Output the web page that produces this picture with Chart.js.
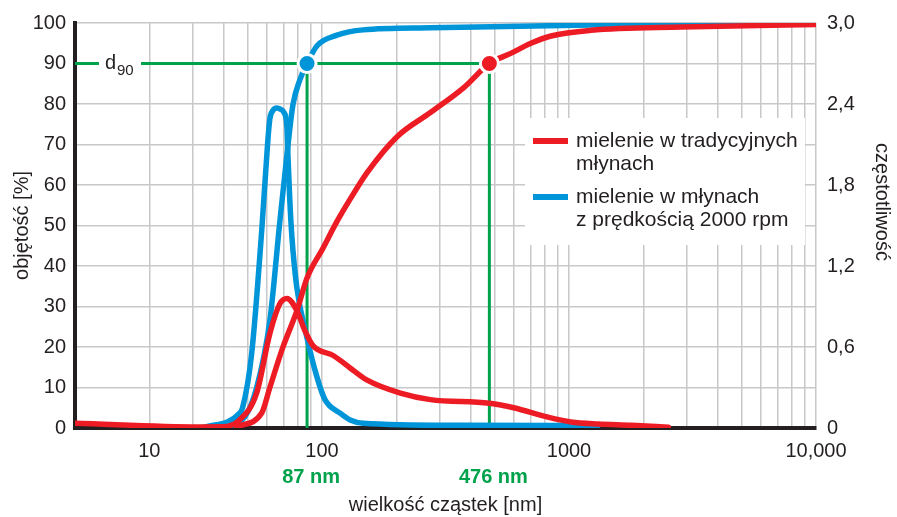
<!DOCTYPE html>
<html>
<head>
<meta charset="utf-8">
<script src="https://cdn.jsdelivr.net/npm/chart.js@4.4.1/dist/chart.umd.min.js"></script>
<style>
  html, body { margin: 0; padding: 0; background: #fff; }
</style>
</head>
<body>
<canvas id="psdChart" width="897" height="517"></canvas>
<script>
// particle size (nm) and values
const redCumX  = [45.1, 57, 61.5, 69.4, 79.1, 86.9, 100.9, 115, 130, 152, 201.8, 274.8, 374, 476, 581, 701, 845, 1228, 2853, 10000];
const redCumY  = [0.3, 3.7, 10, 19.9, 28.9, 37, 44.4, 51, 56.5, 63, 72, 77.9, 84, 90, 92.5, 95, 96.8, 98.2, 99, 99.6];

const blueCumX = [39.2, 48.6, 54.4, 61.5, 67.5, 72.1, 76.2, 81.4, 87, 95.5, 115, 146.8, 274.8, 1228, 10000];
const blueCumY = [0, 2.7, 10, 26.5, 51, 67.4, 79.7, 86, 90, 94.4, 97, 98.3, 98.8, 99.5, 99.9];

// frequency curves (right axis, 0 - 3.0)
const redFreqX = [10, 31.9, 39.6, 46.4, 54.4, 61.5, 67.5, 72.1, 79.1, 85.3, 91.9, 111, 130, 152.4, 207.6, 274.8, 476, 597, 822, 1019, 1312, 1786, 2525];
const redFreqY = [0.036, 0.008, 0.009, 0.06, 0.26, 0.70, 0.92, 0.96, 0.87, 0.72, 0.61, 0.537, 0.445, 0.354, 0.258, 0.21, 0.183, 0.15, 0.08, 0.045, 0.03, 0.021, 0.006];

const blueFreqX = [32.8, 46.4, 47.7, 51.9, 57, 60.3, 61.5, 63.2, 65.6, 68.1, 70, 72.1, 72.8, 74.1, 75.5, 79.1, 86.9, 95.5, 102.8, 118.4, 130, 146.8, 374, 1312];
const blueFreqY = [0, 0.11, 0.15, 0.55, 1.46, 2.12, 2.29, 2.35, 2.37, 2.36, 2.34, 2.23, 2.02, 1.68, 1.42, 1.04, 0.67, 0.375, 0.21, 0.11, 0.06, 0.036, 0.02, 0.018];

// d90 markers
const d90Sizes = [87, 476];
const d90Value = 90;
const d90Labels = ['87 nm', '476 nm'];

// axes
const xTickValues = [20, 100, 1000, 10000];
const xTickLabels = ['10', '100', '1000', '10,000'];
const yLeftTicks = [0, 10, 20, 30, 40, 50, 60, 70, 80, 90, 100];
const yRightTickLabels = ['0', '0,6', '1,2', '1,8', '2,4', '3,0'];

const seriesNames = [
  ['mielenie w tradycyjnych', 'młynach'],
  ['mielenie w młynach', 'z prędkością 2000 rpm']
];

const RED = '#ed1c24';
const BLUE = '#0095d9';
const GREEN = '#00a24b';
const INK = '#231f20';
const FONT = '"Liberation Sans", Arial, sans-serif';

function pts(xs, ys) {
  return xs.map((x, i) => ({ x: x, y: ys[i] }));
}

// every log grid line 10, 20 ... 90, 100, 200 ... 10000
const gridValues = [];
for (let d = 10; d < 10000; d *= 10) {
  for (let m = 1; m < 10; m++) gridValues.push(m * d);
}
gridValues.push(10000);

const overlay = {
  id: 'overlay',
  afterDatasetsDraw(chart) {
    const ctx = chart.ctx;
    const y = chart.scales.y;
    const y90 = y.getPixelForValue(d90Value);

    // d90 label sitting in a gap of the green line
    ctx.save();
    ctx.fillStyle = '#fff';
    ctx.fillRect(99, y90 - 4, 42, 8);
    ctx.fillStyle = INK;
    ctx.textBaseline = 'alphabetic';
    ctx.font = '20px ' + FONT;
    ctx.fillText('d', 105, y90 + 5);
    ctx.font = '15px ' + FONT;
    ctx.fillText('90', 117, y90 + 11);
    ctx.restore();
  },
  afterDraw(chart) {
    const ctx = chart.ctx;
    const x = chart.scales.x;
    ctx.save();

    // legend box
    ctx.fillStyle = '#fff';
    ctx.fillRect(525, 118, 280, 127);
    const rows = [141, 197];
    const colors = [RED, BLUE];
    rows.forEach((ry, i) => {
      ctx.strokeStyle = colors[i];
      ctx.lineWidth = 6;
      ctx.beginPath();
      ctx.moveTo(533, ry);
      ctx.lineTo(568, ry);
      ctx.stroke();
      ctx.fillStyle = INK;
      ctx.font = '21px ' + FONT;
      ctx.textBaseline = 'middle';
      ctx.textAlign = 'left';
      seriesNames[i].forEach((t, k) => ctx.fillText(t, 576, ry + k * 23));
    });

    // green size labels under the axis
    ctx.fillStyle = GREEN;
    ctx.font = 'bold 20px ' + FONT;
    ctx.textAlign = 'center';
    ctx.textBaseline = 'middle';
    d90Sizes.forEach((s, i) => {
      ctx.fillText(d90Labels[i], x.getPixelForValue(s) + 4, 477);
    });

    // right axis title, read top to bottom
    ctx.fillStyle = INK;
    ctx.font = '20px ' + FONT;
    ctx.translate(882, 202);
    ctx.rotate(Math.PI / 2);
    ctx.fillText('częstotliwość', 0, 0);
    ctx.restore();
  }
};

const ctx = document.getElementById('psdChart').getContext('2d');
new Chart(ctx, {
  type: 'line',
  data: {
    datasets: [
      {
        data: [{ x: d90Sizes[0], y: d90Value }],
        showLine: false, pointRadius: 9, pointBorderWidth: 3,
        pointBackgroundColor: BLUE, pointBorderColor: '#fff', order: 0
      },
      {
        data: [{ x: d90Sizes[1], y: d90Value }],
        showLine: false, pointRadius: 9, pointBorderWidth: 3,
        pointBackgroundColor: RED, pointBorderColor: '#fff', order: 0
      },
      { data: pts(redCumX, redCumY), borderColor: RED, order: 1 },
      { data: pts(redFreqX, redFreqY), borderColor: RED, yAxisID: 'y2', order: 2 },
      { data: pts(blueCumX, blueCumY), borderColor: BLUE, order: 3 },
      { data: pts(blueFreqX, blueFreqY), borderColor: BLUE, yAxisID: 'y2', order: 4 },
      {
        data: [{ x: 10, y: d90Value }, { x: d90Sizes[1], y: d90Value }, { x: d90Sizes[1], y: 0 }],
        borderColor: GREEN, borderWidth: 3, tension: 0, cubicInterpolationMode: 'default', order: 10
      },
      {
        data: [{ x: d90Sizes[0], y: d90Value }, { x: d90Sizes[0], y: 0 }],
        borderColor: GREEN, borderWidth: 3, tension: 0, cubicInterpolationMode: 'default', order: 10
      }
    ]
  },
  options: {
    responsive: false,
    animation: false,
    devicePixelRatio: 1,
    layout: { padding: { top: 20, left: 0, right: 0, bottom: 0 } },
    elements: {
      line: { borderWidth: 5.5, fill: false, cubicInterpolationMode: 'monotone', borderCapStyle: 'round', borderJoinStyle: 'round' },
      point: { radius: 0, hoverRadius: 0 }
    },
    plugins: {
      legend: { display: false },
      tooltip: { enabled: false }
    },
    scales: {
      x: {
        type: 'logarithmic',
        min: 10,
        max: 10000,
        afterBuildTicks: (scale) => {
          scale.ticks = gridValues.map(v => ({ value: v }));
        },
        afterFit: (scale) => { scale.height = 89; },
        grid: { color: '#c8c8ca', lineWidth: 1.5, drawTicks: false },
        border: { color: INK, width: 4 },
        ticks: {
          autoSkip: false,
          maxRotation: 0,
          padding: 11,
          color: INK,
          font: { size: 20, family: FONT },
          callback: (value) => {
            const i = xTickValues.indexOf(value);
            return i >= 0 ? xTickLabels[i] : '';
          }
        },
        title: {
          display: true,
          text: 'wielkość cząstek [nm]',
          color: INK,
          font: { size: 20, family: FONT },
          padding: { top: 0, bottom: 0 }
        }
      },
      y: {
        position: 'left',
        min: 0,
        max: 100,
        afterBuildTicks: (scale) => {
          scale.ticks = yLeftTicks.map(v => ({ value: v }));
        },
        afterFit: (scale) => { scale.width = 75; },
        grid: { color: '#c8c8ca', lineWidth: 1.5, drawTicks: false },
        border: { color: INK, width: 4 },
        ticks: {
          padding: 9,
          color: INK,
          font: { size: 20, family: FONT }
        },
        title: {
          display: true,
          text: 'objętość [%]',
          color: INK,
          font: { size: 20, family: FONT },
          padding: { top: 10, bottom: 0 }
        }
      },
      y2: {
        position: 'right',
        min: 0,
        max: 3,
        afterBuildTicks: (scale) => {
          scale.ticks = yRightTickLabels.map((t, i) => ({ value: i * 0.6 }));
        },
        afterFit: (scale) => { scale.width = 81; },
        grid: { display: false, drawTicks: false },
        border: { display: false },
        ticks: {
          padding: 11,
          color: INK,
          font: { size: 20, family: FONT },
          callback: (value, index) => yRightTickLabels[index]
        }
      }
    }
  },
  plugins: [overlay]
});
</script>
</body>
</html>
